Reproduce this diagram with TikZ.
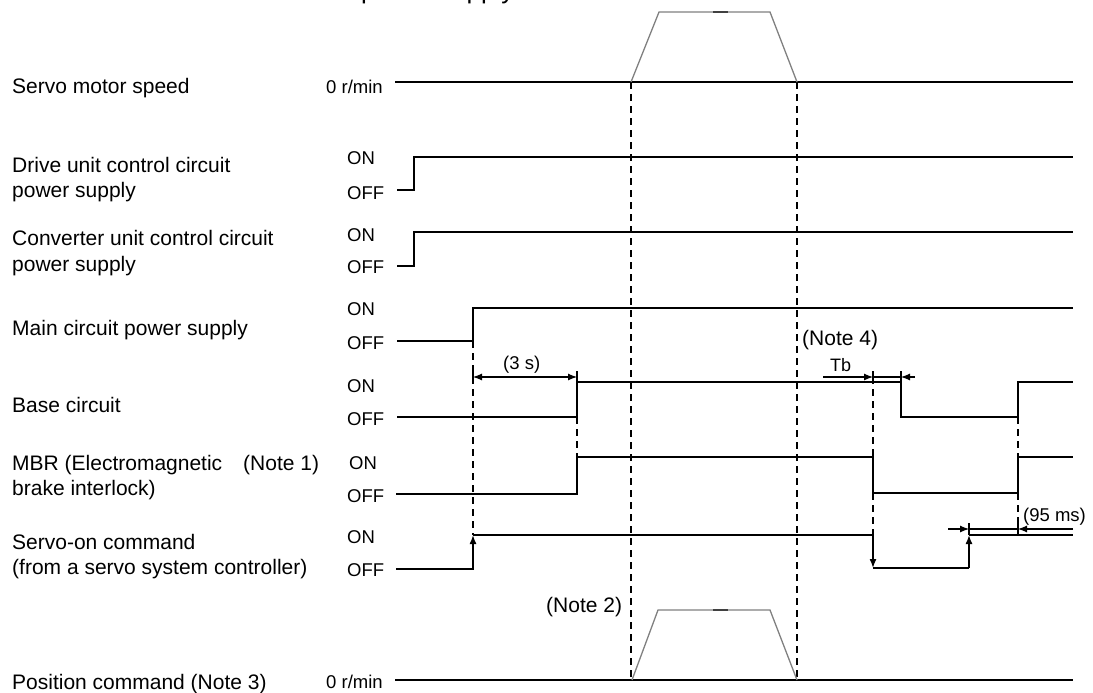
\documentclass[tikz,border=0pt]{standalone}
\usepackage{fontspec}
\setmainfont{Liberation Sans}
\usetikzlibrary{arrows.meta}
\begin{document}
\begin{tikzpicture}[x=1pt,y=-1pt,
  lbl/.style={anchor=base west,inner sep=0pt,font=\fontsize{21}{25}\selectfont},
  sm/.style={anchor=base west,inner sep=0pt,font=\fontsize{18.5}{22}\selectfont},
  sig/.style={line width=1.4pt,line join=miter},
  dsh/.style={line width=1.1pt,dash pattern=on 7pt off 5pt},
  trap/.style={line width=1.3pt,draw=black!50},
  dim/.style={line width=1.1pt},
  tip/.style={-{Latex[length=9pt,width=7pt]}},
  bar/.style={line width=1.1pt}
]
\useasboundingbox (0,0) rectangle (1093,693);
\begin{scope}
\clip (0,0) rectangle (1093,693);
\node[anchor=base west,inner sep=0pt,font=\fontsize{26}{30}\selectfont] (top) at (361,-1) {power supply};
\end{scope}

% left labels
\node[lbl] (l1) at (12,93) {Servo motor speed};
\node[lbl] (l2a) at (12,172) {Drive unit control circuit};
\node[lbl] (l2b) at (12,197) {power supply};
\node[lbl] (l3a) at (12,245.5) {Converter unit control circuit};
\node[lbl] (l3b) at (12,271.5) {power supply};
\node[lbl] (l4) at (12,335.5) {Main circuit power supply};
\node[lbl] (l5) at (12,412.5) {Base circuit};
\node[lbl] (l6a) at (12,470.5) {MBR (Electromagnetic};
\node[lbl] (n1) at (243,470.5) {(Note 1)};
\node[lbl] (l6b) at (12,495.5) {brake interlock)};
\node[lbl] (l7a) at (12,549.5) {Servo-on command};
\node[lbl] (l7b) at (12,574.5) {(from a servo system controller)};
\node[lbl] (l8) at (12,689.5) {Position command (Note 3)};

% level labels
\node[sm] (z1) at (326,94) {0 r/min};
\node[sm] (on2) at (347,164.6) {ON};
\node[sm] (off2) at (347,199.6) {OFF};
\node[sm] (on3) at (347,241.6) {ON};
\node[sm] (off3) at (347,273.6) {OFF};
\node[sm] (on4) at (347,315.6) {ON};
\node[sm] (off4) at (347,349.6) {OFF};
\node[sm] (on5) at (347,392.6) {ON};
\node[sm] (off5) at (347,425.6) {OFF};
\node[sm] (on6) at (349,469.6) {ON};
\node[sm] (off6) at (347,502.6) {OFF};
\node[sm] (on7) at (347,543.6) {ON};
\node[sm] (off7) at (347,576.6) {OFF};
\node[sm] (z8) at (326,688.6) {0 r/min};

% notes
\node[lbl] (n2) at (546,612.5) {(Note 2)};
\node[lbl] (n4) at (802,345.5) {(Note 4)};
\node[sm] (t3s) at (503,369.6) {(3 s)};
\node[sm,font=\fontsize{18}{21}\selectfont] (tb) at (830,371) {Tb};
\node[sm] (t95) at (1023,521.6) {(95 ms)};

% dashed guides
\draw[dsh] (473,341) -- (473,535);
\draw[dsh] (577,417) -- (577,457);
\draw[dsh] (631,82) -- (631,680);
\draw[dsh] (797,82) -- (797,680);
\draw[dsh] (873,377) -- (873,457);
\draw[dsh] (873,493) -- (873,535);
\draw[dsh] (1018,417) -- (1018,457);
\draw[dsh] (1018,493) -- (1018,529);

% servo motor speed
\draw[sig] (395,82) -- (1073,82);
\draw[trap] (631,82) -- (659,12) -- (770,12) -- (797,82);
\draw[line width=1.3pt,black!75] (713,12) -- (728,12);

% drive unit
\draw[sig] (397,190) -- (414,190) -- (414,157) -- (1073,157);
% converter
\draw[sig] (397,266) -- (414,266) -- (414,232) -- (1073,232);
% main circuit
\draw[sig] (397,341) -- (473,341) -- (473,308) -- (1073,308);
% base circuit
\draw[sig] (397,417) -- (577,417) -- (577,382) -- (901,382) -- (901,417) -- (1018,417) -- (1018,382) -- (1073,382);
% MBR
\draw[sig] (396,494) -- (577,494) -- (577,457) -- (873,457) -- (873,493) -- (1018,493) -- (1018,457) -- (1073,457);
% servo-on
\draw[sig,tip] (396,569) -- (473,569) -- (473,535);
\draw[sig] (473,535) -- (873,535);
\draw[sig,tip] (873,535) -- (873,568);
\draw[sig] (873,568) -- (969,568);
\draw[sig,tip] (969,568) -- (969,535);
\draw[sig] (969,535) -- (1073,535);

% position command
\draw[sig] (395,680) -- (1073,680);
\draw[trap] (632,680) -- (658,610) -- (770,610) -- (797,680);
\draw[line width=1.3pt,black!75] (713,610) -- (728,610);

% (3 s)
\draw[dim,tip] (525,377) -- (473,377);
\draw[dim,tip] (525,377) -- (577,377);
\draw[bar] (473,371) -- (473,383);
\draw[bar] (577,371) -- (577,383);
% Tb
\draw[dim,tip] (823,377) -- (873,377);
\draw[dim] (873,377) -- (901,377);
\draw[dim,tip] (915,377) -- (901,377);
\draw[bar] (873,371) -- (873,383);
\draw[bar] (901,371) -- (901,383);
% 95 ms
\draw[dim,tip] (948,529) -- (969,529);
\draw[dim] (969,529) -- (1018,529);
\draw[dim,tip] (1073,529) -- (1018,529);
\draw[bar] (969,523) -- (969,535);
\draw[bar] (1018,523) -- (1018,535);
\end{tikzpicture}
\end{document}
